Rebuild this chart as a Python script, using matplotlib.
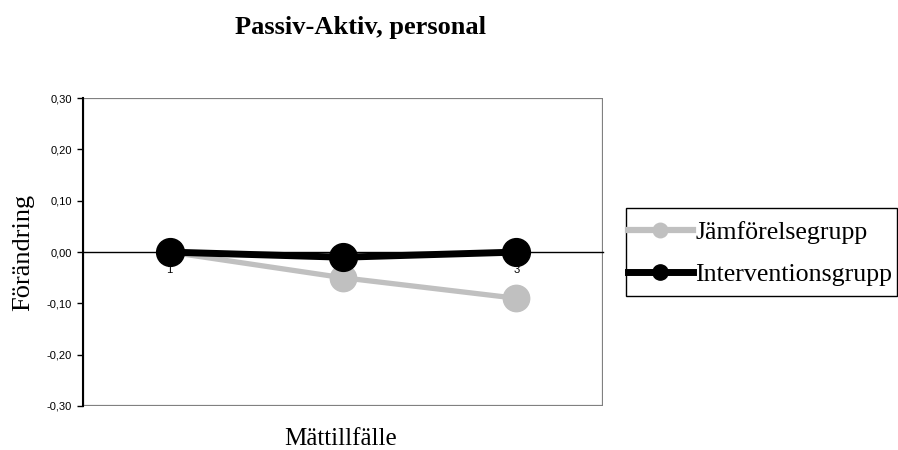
import matplotlib
matplotlib.use("Agg")
import matplotlib.pyplot as plt
from matplotlib.patches import Rectangle
from matplotlib.ticker import FuncFormatter

# data
tillfallen = [1, 2, 3]
jamforelse = [0.00, -0.05, -0.09]
intervention = [0.00, -0.01, 0.00]
serie_namn = ["Jämförelsegrupp", "Interventionsgrupp"]
y_ticks = [-0.3, -0.2, -0.1, 0.0, 0.1, 0.2, 0.3]

serif = "Liberation Serif"
sans = "Liberation Sans"

fig = plt.figure(figsize=(8.98, 4.5), dpi=100)
ax = fig.add_axes([0.0924, 0.0978, 0.579, 0.684])

ax.plot(tillfallen, jamforelse, "-o", color="#c0c0c0", lw=3.8, ms=19,
        label=serie_namn[0], zorder=4, clip_on=False)
ax.plot(tillfallen, intervention, "-o", color="black", lw=5, ms=20,
        label=serie_namn[1], zorder=5, clip_on=False)

ax.set_xlim(0.5, 3.5)
ax.set_ylim(-0.3, 0.3)
ax.set_yticks(y_ticks)
ax.yaxis.set_major_formatter(FuncFormatter(lambda v, p: f"{v:.2f}".replace(".", ",")))
ax.set_xticks(tillfallen)
ax.set_xticklabels([str(t) for t in tillfallen])

# x-axeln ligger på noll, ram i grått
ax.spines["bottom"].set_position(("data", 0))
ax.spines["bottom"].set_color("black")
ax.spines["bottom"].set_linewidth(1)
ax.spines["left"].set_color("black")
ax.spines["left"].set_linewidth(1.5)
ax.spines["left"].set_zorder(3)
for s in ["top", "right"]:
    ax.spines[s].set_visible(False)
ax.add_patch(Rectangle((0, 0), 1, 1, transform=ax.transAxes, fill=False,
                       edgecolor="#808080", lw=1.6, zorder=0))

ax.tick_params(axis="y", length=4, width=1, labelsize=8, pad=4)
ax.tick_params(axis="x", length=0, labelsize=8, pad=9)
for lab in ax.get_xticklabels() + ax.get_yticklabels():
    lab.set_fontfamily(sans)
    lab.set_zorder(1)

ax.set_ylabel("Förändring", fontfamily=serif, fontsize=19)
ax.yaxis.set_label_coords(-0.094, 0.5)
ax.set_xlabel("Mättillfälle", fontfamily=serif, fontsize=18)
ax.xaxis.set_label_coords(0.496, -0.071)

fig.text(0.402, 0.938, "Passiv-Aktiv, personal", fontfamily=serif,
         fontsize=19, fontweight="bold", ha="center", va="center")

# legend utan egen ram, ramen ritas separat (smal sidomarginal)
leg = fig.legend(loc="center left", bbox_to_anchor=(628 / 898, 0.437),
                 markerscale=0.55, prop={"family": serif, "size": 18.6},
                 frameon=False, handlelength=2.5, handletextpad=0.1,
                 borderpad=0, labelspacing=0.75, borderaxespad=0)
leg.get_lines()[0].set_linewidth(4.5)
fig.add_artist(Rectangle((626 / 898, 1 - 296 / 450), 271 / 898, 88 / 450,
                         transform=fig.transFigure, fill=False,
                         edgecolor="black", lw=1))

fig.savefig("out.png", dpi=100)
